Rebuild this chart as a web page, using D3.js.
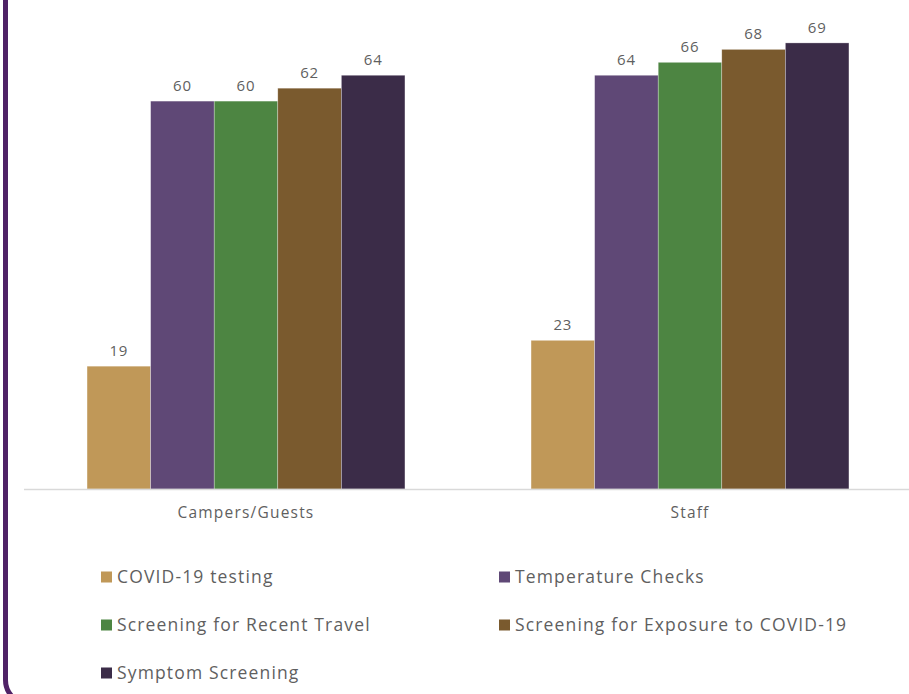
<!DOCTYPE html>
<html><head><meta charset="utf-8">
<script src="https://cdn.jsdelivr.net/npm/d3@7"></script>
<style>body{margin:0;background:#fff}svg{display:block}</style>
</head><body>
<script>
const categories = ["Campers/Guests", "Staff"];
const seriesNames = ["COVID-19 testing", "Temperature Checks", "Screening for Recent Travel", "Screening for Exposure to COVID-19", "Symptom Screening"];
const campersValues = [19, 60, 60, 62, 64];
const staffValues = [23, 64, 66, 68, 69];
const colors = ["#C09858", "#5F4876", "#4D8542", "#7A5A2E", "#3B2C48"];

const W = 909, H = 694;
const svg = d3.select("body").append("svg").attr("width", W).attr("height", H);
const font = "'Open Sans', sans-serif";

// frame
svg.append("rect").attr("x", 5.5).attr("y", -40).attr("width", 1000).attr("height", 744)
  .attr("rx", 24).attr("fill", "none").attr("stroke", "#4F2266").attr("stroke-width", 5);

const valuesByCat = [campersValues, staffValues];
const x0 = d3.scaleBand().domain(categories).range([24, 912]).paddingInner(0.284).paddingOuter(0.142);
const x1 = d3.scaleBand().domain(seriesNames).range([0, x0.bandwidth()]);
const y = d3.scaleLinear().domain([0, 70]).range([489, 489 - 70 * 6.465]);

const g = svg.append("g");
categories.forEach((c, ci) => {
  const grp = g.append("g").attr("transform", `translate(${x0(c)},0)`);
  seriesNames.forEach((s, si) => {
    const v = valuesByCat[ci][si];
    grp.append("rect").attr("x", x1(s)).attr("y", y(v)).attr("width", x1.bandwidth())
      .attr("height", y(0) - y(v)).attr("fill", colors[si])
      .attr("stroke", "#ffffff").attr("stroke-width", 0.6).attr("stroke-opacity", 0.5);
    grp.append("text").attr("x", x1(s) + x1.bandwidth() / 2).attr("y", y(v) - 10)
      .attr("text-anchor", "middle").attr("font-family", font).attr("font-size", 15)
      .attr("letter-spacing", 0.8).attr("fill", "#5f5f5f").text(v);
  });
});

// axis
const xAxis = svg.append("g").attr("transform", "translate(0,489.5)")
  .call(d3.axisBottom(x0).tickSize(0).tickPadding(17));
xAxis.select(".domain").attr("stroke", "#d9d9d9").attr("stroke-width", 1.5).attr("d", "M24,0H912");
xAxis.selectAll("text").attr("font-family", font).attr("font-size", 15.5)
  .attr("letter-spacing", 1.2).attr("fill", "#5f5f5f");

// legend
const legX = [101, 499], legY = [577, 625, 673];
seriesNames.forEach((s, i) => {
  const lx = legX[i % 2], ly = legY[Math.floor(i / 2)];
  const lg = svg.append("g").attr("transform", `translate(${lx},${ly})`);
  lg.append("rect").attr("x", 0).attr("y", -5.5).attr("width", 11).attr("height", 11).attr("fill", colors[i]);
  lg.append("text").attr("x", 16).attr("y", 0).attr("dy", "0.35em").attr("font-family", font)
    .attr("font-size", 17.5).attr("letter-spacing", 1.15).attr("fill", "#5f5f5f").text(s);
});
</script>
</body></html>
